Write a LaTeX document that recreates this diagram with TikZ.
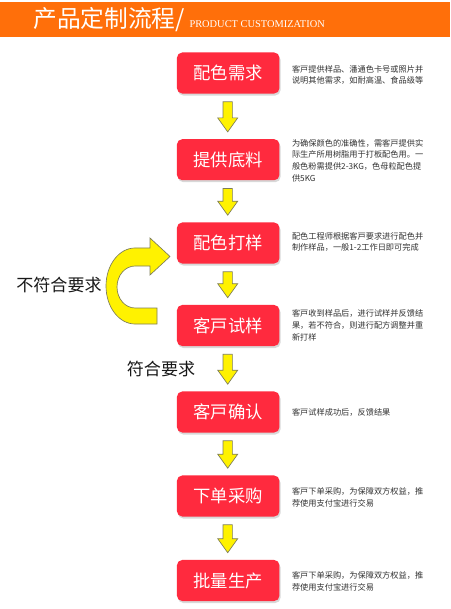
\documentclass[tikz,border=0pt]{standalone}
\usepackage{fontspec}
\setmainfont{Noto Sans CJK SC}
\newfontfamily\cjk{Noto Sans CJK SC}
\newfontfamily\serifen{Liberation Serif}
\usetikzlibrary{calc,shadows}
\definecolor{hdr}{RGB}{255,111,10}
\definecolor{boxred}{RGB}{255,42,62}
\definecolor{arrowyel}{RGB}{255,242,0}
\definecolor{arrowedge}{RGB}{125,125,90}
\definecolor{desc}{RGB}{50,50,50}
\newcommand\yarrowdown[2]{%
  \path ($(#1.south)+(-0.5,8)$) coordinate (arrtop) ($(#2.north)+(-0.5,-7)$) coordinate (arrtip);
  \draw[yarr] ($(arrtop)+(-4.7,0)$) -- ($(arrtop)+(4.7,0)$) -- ($(arrtip)+(4.7,-14)$) -- ($(arrtip)+(10,-14)$) -- (arrtip) -- ($(arrtip)+(-10,-14)$) -- ($(arrtip)+(-4.7,-14)$) -- cycle;}
\begin{document}
\begin{tikzpicture}[x=0.75pt,y=-0.75pt,
  stepbox/.style={fill=boxred, rounded corners=4pt, minimum width=76.9pt, minimum height=30.8pt, inner sep=0pt, text=white, font=\cjk\fontsize{13}{15}\selectfont, drop shadow={opacity=0.3, shadow xshift=0.8pt, shadow yshift=-1.5pt}},
  desctext/.style={anchor=west, align=left, text=desc, font=\cjk\fontsize{6.15}{8.8}\selectfont, inner sep=0pt},
  yarr/.style={fill=arrowyel, draw=arrowedge, line width=0.5pt, line join=miter},
  sidelabel/.style={font=\cjk\fontsize{12.8}{15}\selectfont, text=black!90, inner sep=0pt}]
\useasboundingbox (0,0) rectangle (450,609);
\fill[white] (0,0) rectangle (450,609);
% header
\fill[hdr] (0,2) rectangle (450,37);
\node[anchor=base west, inner sep=0pt, text=white, font=\cjk\fontsize{17.8}{20}\selectfont] (t1) at (33,28) {产品定制流程/};
\node[anchor=base west, inner sep=0pt, text=white, font=\serifen\fontsize{7.8}{9}\selectfont] (t2) at ($(t1.base east)+(4,0)$) {PRODUCT CUSTOMIZATION};
% steps
\node[stepbox] (b1) at (228.2,73) {配色需求};
\node[stepbox] (b2) at (228.2,159.7) {提供底料};
\node[stepbox] (b3) at (228.2,243) {配色打样};
\node[stepbox] (b4) at (228.2,325.5) {客戸试样};
\node[stepbox] (b5) at (228.2,412) {客戸确认};
\node[stepbox] (b6) at (228.2,496) {下单采购};
\node[stepbox] (b7) at (228.2,580.5) {批量生产};
% descriptions
\node[desctext] (d1) at ($(b1.east)+(12,2)$) {客戸提供样品、潘通色卡号或照片并\\说明其他需求，如耐高温、食品级等};
\node[desctext] (d2) at ($(b2.east)+(12,0.8)$) {为确保颜色的准确性，需客戸提供实\\际生产所用树脂用于打板配色用。一\\般色粉需提供2-3KG，色母粒配色提\\供5KG};
\node[desctext] (d3) at ($(b3.east)+(12,-1)$) {配色工程师根据客戸要求进行配色并\\制作样品，一般1-2工作日即可完成};
\node[desctext] (d4) at ($(b4.east)+(12,0)$) {客戸收到样品后，进行试样并反馈结\\果，若不符合，则进行配方调整并重\\新打样};
\node[desctext] (d5) at ($(b5.east)+(12,0.7)$) {客戸试样成功后，反馈结果};
\node[desctext] (d6) at ($(b6.east)+(12,1)$) {客戸下单采购，为保障双方权益，推\\荐使用支付宝进行交易};
\node[desctext] (d7) at ($(b7.east)+(12,0.5)$) {客戸下单采购，为保障双方权益，推\\荐使用支付宝进行交易};
% down arrows
\yarrowdown{b1}{b2}
\yarrowdown{b2}{b3}
\yarrowdown{b3}{b4}
\yarrowdown{b4}{b5}
\yarrowdown{b5}{b6}
\yarrowdown{b6}{b7}
% loop-back arrow
\draw[yarr] (157,324) -- (135,324) arc[start angle=90, end angle=270, x radius=29, y radius=38]
  -- (150,248) -- (150,238) -- (170,256.5) -- (150,275) -- (150,266) -- (135,266)
  arc[start angle=270, end angle=90, x radius=18, y radius=21] -- (157,308) -- cycle;
% side labels
\node[sidelabel] (l1) at (59,285) {不符合要求};
\node[sidelabel] (l2) at (161,369) {符合要求};
\end{tikzpicture}
\end{document}
